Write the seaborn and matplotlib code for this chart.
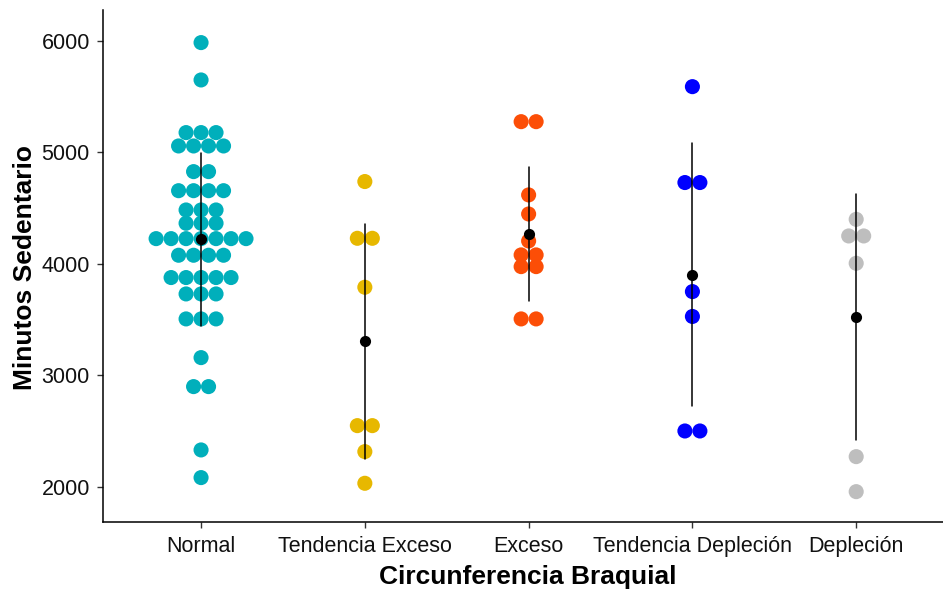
import numpy as np
import pandas as pd
import matplotlib
matplotlib.use("Agg")
import matplotlib.pyplot as plt
import seaborn as sns

# ---- data (dots sit at bin centres) ----
categories = ["Normal", "Tendencia Exceso", "Exceso", "Tendencia Depleción", "Depleción"]
colors = ["#00AFBB", "#E7B800", "#FC4E07", "#0000FF", "#BEBEBE"]

normal_vals = ([5985, 5650] + [5178] * 3 + [5058] * 4 + [4828] * 2 + [4657] * 4
               + [4484] * 3 + [4365] * 3 + [4227] * 7 + [4078] * 4 + [3878] * 5
               + [3731] * 3 + [3507] * 3 + [3160] + [2900] * 2 + [2332] + [2084])
tend_exceso_vals = [4739] + [4230] * 2 + [3791] + [2550] * 2 + [2317] + [2033]
exceso_vals = [5276] * 2 + [4619, 4448, 4206] + [4081] * 2 + [3976] * 2 + [3507] * 2
tend_deplecion_vals = [5590] + [4730] * 2 + [3752, 3529] + [2502] * 2
deplecion_vals = [4400] + [4251] * 2 + [4006, 2272, 1958]

y_ticks = [2000, 3000, 4000, 5000, 6000]

groups = [normal_vals, tend_exceso_vals, exceso_vals, tend_deplecion_vals, deplecion_vals]

# ---- dot-plot layout: centre the stacked dots of each bin ----
dot_w = 0.0915  # horizontal step between stacked dots (category units)
rows = []
for gi, (cat, vals) in enumerate(zip(categories, groups)):
    s = pd.Series(vals)
    counts = s.value_counts()
    seen = {}
    for v in vals:
        n = counts[v]
        k = seen.get(v, 0)
        seen[v] = k + 1
        rows.append({"grupo": cat, "valor": v, "pos": gi + (k - (n - 1) / 2) * dot_w})
df = pd.DataFrame(rows)

# ---- figure ----
sns.set_style("ticks")
plt.rcParams["font.family"] = ["Liberation Sans", "DejaVu Sans"]

fig = plt.figure(figsize=(9.43, 5.89), dpi=100)
ax = fig.add_axes([0.109, 0.1138, 0.891, 0.8684])

sns.scatterplot(data=df, x="pos", y="valor", hue="grupo", hue_order=categories,
                palette=colors, s=118, linewidth=0, legend=False, ax=ax, zorder=2)

sns.pointplot(data=df, x="grupo", y="valor", order=categories, errorbar="sd",
              color="black", linestyle="none", markers="o", markersize=6,
              err_kws={"linewidth": 1.1}, native_scale=False, ax=ax, zorder=3)

ax.set_xlim(-0.6, 4.53)
ax.set_ylim(1686, 6273)
ax.set_yticks(y_ticks)
ax.set_yticklabels([str(t) for t in y_ticks])
ax.set_xticks(range(len(categories)))
ax.set_xticklabels(categories)

for side in ["top", "right"]:
    ax.spines[side].set_visible(False)
for side in ["left", "bottom"]:
    ax.spines[side].set_linewidth(1.1)
    ax.spines[side].set_color("black")

ax.tick_params(axis="both", length=4.3, width=1.0, color="#333333",
               labelsize=15.5, labelcolor="#111111")
ax.tick_params(axis="x", pad=5.5)
ax.tick_params(axis="y", pad=5)

ax.set_xlabel("Circunferencia Braquial", fontsize=19, fontweight="bold", color="black")
ax.set_ylabel("Minutos Sedentario", fontsize=19, fontweight="bold", color="black")
ax.xaxis.set_label_coords(0.506, -0.1075)
ax.yaxis.set_label_coords(-0.0925, 0.4976)
ax.xaxis.label.set_va("center")
ax.yaxis.label.set_va("center")

fig.savefig("out.png", dpi=100)
